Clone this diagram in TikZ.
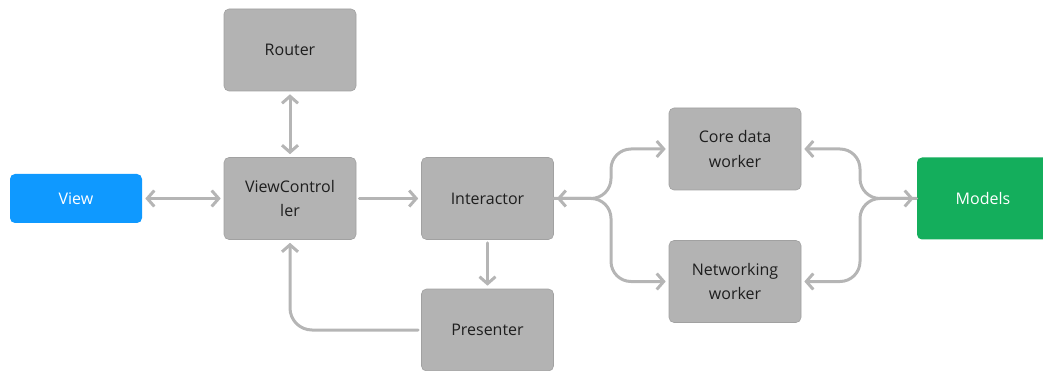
\documentclass[tikz,border=0pt]{standalone}
\usepackage{fontspec}
\setmainfont{Open Sans}
\usetikzlibrary{arrows.meta}
\definecolor{boxgray}{HTML}{B3B3B3}
\definecolor{arrowgray}{HTML}{B5B5B5}
\definecolor{viewblue}{HTML}{0F99FF}
\definecolor{modelgreen}{HTML}{14AE5C}
\definecolor{textdark}{HTML}{1E1E1E}
\tikzset{
	block/.style={fill=boxgray, draw=boxgray!90!black, line width=0.6pt, rounded corners=5pt,
		minimum width=132pt, minimum height=82pt, align=center, text=textdark,
		font=\fontsize{16}{24.5}\selectfont},
	flat/.style={block, draw=none, text=white, minimum height=49pt},
	arr/.style={draw=arrowgray, line width=3pt, line cap=round,
		arrows={-Straight Barb[length=7pt, width=16pt, line width=3pt]}},
	twoway/.style={arr, arrows={Straight Barb[length=7pt, width=16pt, line width=3pt]-Straight Barb[length=7pt, width=16pt, line width=3pt]}}
}

\begin{document}
\begin{tikzpicture}[x=1pt, y=-1pt]

	\clip (0,0) rectangle (1043,371);
	\useasboundingbox (0,0) rectangle (1043,371);

	\node[block] (router) at (290,50) {Router};
	\node[block] (vc) at (290,198.5) {ViewControl\\ler};
	\node[flat, fill=viewblue] (view) at (76,198.5) {View};
	\node[block] (inter) at (487.5,198.5) {Interactor};
	\node[block] (pres) at (487.5,330) {Presenter};
	\node[block] (core) at (735,149) {Core data\\worker};
	\node[block] (net) at (735,281.5) {Networking\\worker};
	\node[block, draw=none, fill=modelgreen, text=white, minimum height=82pt] (models) at (983,198.5) {Models};

	\coordinate (lsplit) at (611,198.5);
	\coordinate (rsplit) at (860,198.5);

	\draw[twoway, shorten <=3pt, shorten >=3pt] (router) -- (vc);
	\draw[twoway, shorten <=3pt, shorten >=3pt] (view) -- (vc);
	\draw[arr, shorten <=3pt, shorten >=3pt] (vc) -- (inter);
	\draw[arr, shorten <=3pt, shorten >=3pt] (inter) -- (pres);
	\draw[arr, rounded corners=22pt, shorten <=3pt, shorten >=3pt] (pres.west) -| (vc.south);

	\draw[twoway, rounded corners=20pt, shorten <=3pt, shorten >=3pt] (inter.east) -- (lsplit) |- (core.west);
	\draw[arr, rounded corners=20pt, shorten >=3pt] (inter.east) -- (lsplit) |- (net.west);
	\draw[twoway, rounded corners=20pt, shorten <=3pt, shorten >=3pt] (models.west) -- (rsplit) |- (core.east);
	\draw[arr, rounded corners=20pt, shorten >=3pt] (models.west) -- (rsplit) |- (net.east);

\end{tikzpicture}
\end{document}
